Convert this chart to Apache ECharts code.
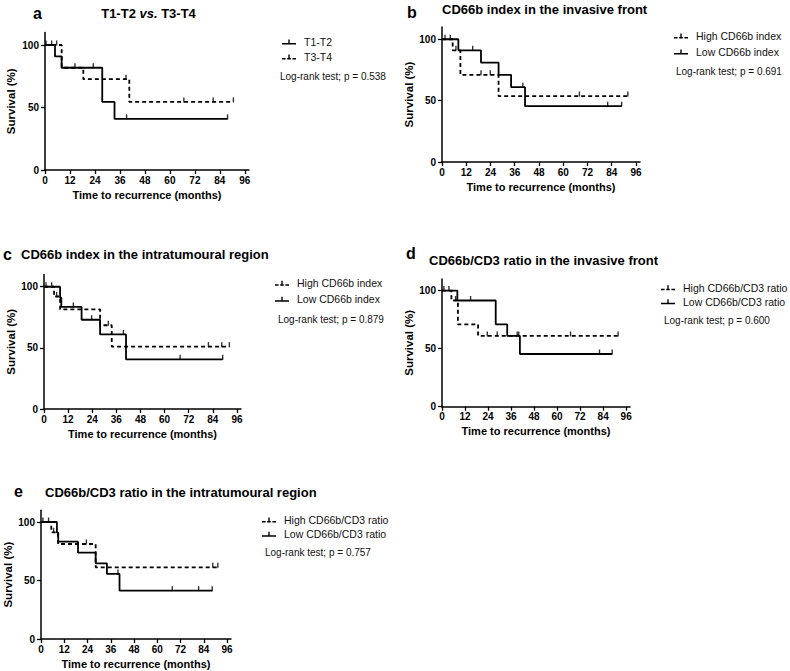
<!DOCTYPE html>
<html>
<head>
<meta charset="utf-8">
<script src="https://cdn.jsdelivr.net/npm/echarts@6/dist/echarts.min.js"></script>
<style>
html,body{margin:0;padding:0;background:#fff;}
#chart{width:790px;height:671px;}
</style>
</head>
<body>
<div id="chart"></div>
<script>
// ---- tick labels ----
const xTicks = [0, 12, 24, 36, 48, 60, 72, 84, 96];
const yTicks = [0, 50, 100];

// ---- panel a: T1-T2 vs T3-T4 ----
const aSolidSteps = [[0,100],[4.8,90.9],[8,81.8],[27.5,54.5],[33.4,40.9],[87.7,40.9]];
const aSolidCensor = [[3.2,100],[23.2,81.8],[39.2,40.9],[87.7,40.9]];
const aDashSteps = [[0,100],[8,81.8],[18.4,72.7],[40.5,54.5],[90.5,54.5]];
const aDashCensor = [[0.5,100],[5.6,100],[14.4,81.8],[38.9,72.7],[66.7,54.5],[80.8,54.5],[90.5,54.5]];

// ---- panel b: CD66b index, invasive front ----
const bHighSteps = [[0,100],[5.3,91],[9.1,71],[28,53.7],[92,53.7]];
const bHighCensor = [[1.5,100],[4.1,100],[6.9,91],[19.3,71],[23.9,71],[68,53.7],[92,53.7]];
const bLowSteps = [[0,100],[8.1,91],[19.3,81],[28,71],[34.2,61],[41.1,45.5],[88.9,45.5]];
const bLowCensor = [[15.2,91],[40,61],[82,45.5],[88.9,45.5]];

// ---- panel c: CD66b index, intratumoural ----
const cHighSteps = [[0,100],[5,92],[8,81.5],[27.9,68.5],[33.7,51],[92.2,51]];
const cHighCensor = [[6.3,92],[32,68.5],[81.8,51],[88.4,51],[92.2,51]];
const cLowSteps = [[0,100],[8,91],[8.6,83.5],[18.7,73],[27.9,61],[40.8,40.6],[88.9,40.6]];
const cLowCensor = [[1,100],[3.8,100],[14.6,83.5],[23.7,73],[39.5,61],[67.7,40.6],[88.9,40.6]];

// ---- panel d: CD66b/CD3 ratio, invasive front ----
const dHighSteps = [[0,100],[4.9,91.5],[8.3,71],[18.8,61],[91.8,61]];
const dHighCensor = [[7.1,91.5],[23.6,61],[28.8,61],[40,61],[67,61],[91.8,61]];
const dLowSteps = [[0,100],[8,91.5],[28,71],[34,61],[40.6,45.4],[88.7,45.4]];
const dLowCensor = [[1,100],[3.6,100],[14.9,91.5],[39.2,61],[82.1,45.4],[88.7,45.4]];

// ---- panel e: CD66b/CD3 ratio, intratumoural ----
const eHighSteps = [[0,100],[5.3,91.2],[8.8,81.2],[28.2,61.3],[91.2,61.3]];
const eHighCensor = [[6.5,91.2],[23.4,81.2],[88.6,61.3],[91.2,61.3]];
const eLowSteps = [[0,100],[8.2,91],[8.9,83.2],[19.1,73.8],[28.2,64.7],[34,55.6],[40.5,41.3],[88.3,41.3]];
const eLowCensor = [[1,100],[3.9,100],[39.7,55.6],[67.7,41.3],[81.3,41.3],[88.3,41.3]];

// ---- names / texts ----
const panelLetters = ['a','b','c','d','e'];
const legendNames = [
  ['T1-T2','T3-T4'],
  ['High CD66b index','Low CD66b index'],
  ['High CD66b index ','Low CD66b index '],
  ['High CD66b/CD3 ratio','Low CD66b/CD3 ratio'],
  ['High CD66b/CD3 ratio ','Low CD66b/CD3 ratio ']
];
const pValues = ['0.538','0.691','0.879','0.600','0.757'];

const FONT = 'Liberation Sans, Arial, Helvetica, sans-serif';
const SOLID_ICON = 'path://M0,4.5h14v1.5h-14z M6.3,1h1.4v3.5h-1.4z';
const DASH_ICON = 'path://M0,4.5h3.6v1.5h-3.6z M5.2,4.5h3.6v1.5h-3.6z M10.4,4.5h3.6v1.5h-3.6z M6.3,1h1.4v3.5h-1.4z';

const grids = [
  {left:45, top:32.5, width:204, height:137.5},
  {left:442, top:27, width:198, height:135},
  {left:44, top:274.5, width:197, height:134.5},
  {left:442, top:279, width:188, height:127.7},
  {left:41, top:510.3, width:190, height:128.7}
];
const yNameGaps = [28, 25, 27, 25.5, 24.5];

const panels = [
  {solid:[aSolidSteps,aSolidCensor], dash:[aDashSteps,aDashCensor], solidName:legendNames[0][0], dashName:legendNames[0][1], solidFirst:true},
  {solid:[bLowSteps,bLowCensor], dash:[bHighSteps,bHighCensor], solidName:legendNames[1][1], dashName:legendNames[1][0], solidFirst:false},
  {solid:[cLowSteps,cLowCensor], dash:[cHighSteps,cHighCensor], solidName:legendNames[2][1], dashName:legendNames[2][0], solidFirst:false},
  {solid:[dLowSteps,dLowCensor], dash:[dHighSteps,dHighCensor], solidName:legendNames[3][1], dashName:legendNames[3][0], solidFirst:false},
  {solid:[eLowSteps,eLowCensor], dash:[eHighSteps,eHighCensor], solidName:legendNames[4][1], dashName:legendNames[4][0], solidFirst:false}
];

const xAxes = [], yAxes = [], series = [], legends = [];
const axisLineStyle = {color:'#000', width:1.5};
grids.forEach((g, i) => {
  xAxes.push({
    gridIndex:i, type:'value', min:0, max:98,
    name:'Time to recurrence (months)', nameLocation:'middle', nameGap:19,
    nameTextStyle:{fontFamily:FONT, fontWeight:'bold', fontSize:11, color:'#000'},
    axisLine:{show:true, onZero:false, lineStyle:axisLineStyle},
    axisTick:{show:true, length:4, lineStyle:{color:'#000', width:1.3}, customValues:xTicks},
    axisLabel:{fontFamily:FONT, fontWeight:'bold', fontSize:10, color:'#000', margin:5, customValues:xTicks},
    splitLine:{show:false}
  });
  yAxes.push({
    gridIndex:i, type:'value', min:0, max:110,
    name:'Survival (%)', nameLocation:'middle', nameGap:yNameGaps[i],
    nameTextStyle:{fontFamily:FONT, fontWeight:'bold', fontSize:11.5, color:'#000'},
    axisLine:{show:true, onZero:false, lineStyle:axisLineStyle},
    axisTick:{show:true, length:4, lineStyle:{color:'#000', width:1.3}, customValues:yTicks},
    axisLabel:{fontFamily:FONT, fontWeight:'bold', fontSize:10, color:'#000', margin:6, customValues:yTicks},
    splitLine:{show:false}
  });
  const p = panels[i];
  const mk = (name, steps, dashed) => ({
    name, type:'line', xAxisIndex:i, yAxisIndex:i, data:steps, step:'end',
    showSymbol:false, symbol:'none', silent:true, animation:false,
    color:'#000',
    lineStyle:{color:'#000', width:1.8, type: dashed ? [4,3] : 'solid'}
  });
  const mkC = (steps) => ({
    name:'censor'+i, type:'scatter', xAxisIndex:i, yAxisIndex:i, data:steps,
    symbol:'rect', symbolSize:[1.4,5], symbolOffset:[0,-2], silent:true, animation:false,
    itemStyle:{color:'#000'}
  });
  series.push(mk(p.solidName, p.solid[0], false), mkC(p.solid[1]));
  series.push(mk(p.dashName, p.dash[0], true), mkC(p.dash[1]));
});

const legendPos = [
  {left:282, top:35, gap:1},
  {left:674, top:29, gap:2},
  {left:275, top:276.3, gap:2},
  {left:661, top:280.7, gap:0},
  {left:262, top:513, gap:0.3}
];
panels.forEach((p, i) => {
  const items = p.solidFirst
    ? [{name:p.solidName, icon:SOLID_ICON},{name:p.dashName, icon:DASH_ICON}]
    : [{name:p.dashName, icon:DASH_ICON},{name:p.solidName, icon:SOLID_ICON}];
  legends.push({
    orient:'vertical', left:legendPos[i].left, top:legendPos[i].top, padding:0,
    itemGap:legendPos[i].gap, itemWidth:14, itemHeight:6, selectedMode:false,
    data:items,
    itemStyle:{color:'#000', borderWidth:0},
    textStyle:{fontFamily:FONT, fontSize:10.5, color:'#111', lineHeight:14, padding:[0,0,0,3]}
  });
});

const logPos = [[280,76],[676,71],[278,319],[664,320],[265,552]];
const letterPos = [[33,13],[407,12],[3,254],[406,253],[14,491]];
const titleDefs = [
  {x:148.5, y:13, align:'center', text:'{b|T1-T2 }{i|vs.}{b| T3-T4}'},
  {x:442, y:9, align:'left', text:'{b|CD66b index in the invasive front}'},
  {x:21, y:254, align:'left', text:'{b|CD66b index in the intratumoural region}'},
  {x:429, y:260, align:'left', text:'{b|CD66b/CD3 ratio in the invasive front}'},
  {x:45, y:492, align:'left', text:'{b|CD66b/CD3 ratio in the intratumoural region}'}
];
const graphics = [];
const richT = {
  b:{fontFamily:FONT, fontWeight:'bold', fontSize:13, fill:'#000', color:'#000'},
  i:{fontFamily:FONT, fontWeight:'bold', fontStyle:'italic', fontSize:13, fill:'#000', color:'#000'}
};
panelLetters.forEach((L, i) => {
  graphics.push({type:'text', x:letterPos[i][0], y:letterPos[i][1], silent:true,
    style:{text:L, fill:'#000', font:'bold 16px '+FONT, align:'left', verticalAlign:'middle', textAlign:'left', textVerticalAlign:'middle'}});
  const t = titleDefs[i];
  graphics.push({type:'text', x:t.x, y:t.y, silent:true,
    style:{text:t.text, rich:richT, fill:'#000', font:'bold 13px '+FONT, align:t.align, verticalAlign:'middle', textAlign:t.align, textVerticalAlign:'middle'}});
  graphics.push({type:'text', x:logPos[i][0], y:logPos[i][1], silent:true,
    style:{text:'Log-rank test; p = ' + pValues[i], fill:'#111', font:'10px '+FONT, align:'left', verticalAlign:'middle', textAlign:'left', textVerticalAlign:'middle'}});
});

const chart = echarts.init(document.getElementById('chart'), null, {renderer:'svg', width:790, height:671});
chart.setOption({
  backgroundColor:'#fff',
  animation:false,
  grid: grids.map(g => Object.assign({containLabel:false}, g)),
  xAxis: xAxes,
  yAxis: yAxes,
  legend: legends,
  series: series,
  graphic: graphics
});
</script>
</body>
</html>
